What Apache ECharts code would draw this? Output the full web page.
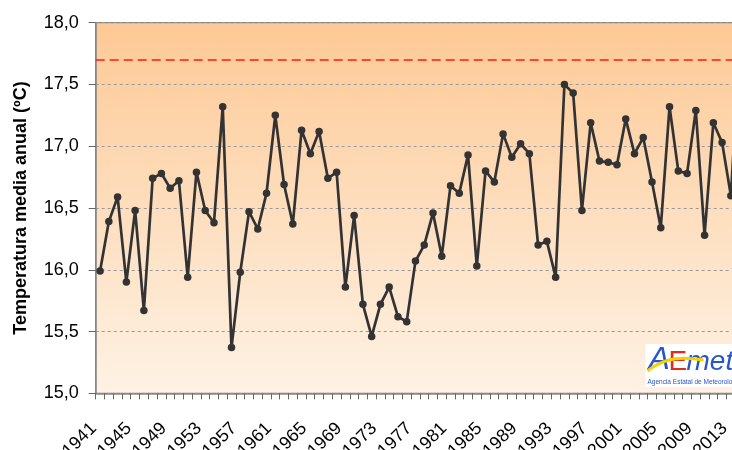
<!DOCTYPE html>
<html>
<head>
<meta charset="utf-8">
<script src="https://cdn.jsdelivr.net/npm/echarts@6/dist/echarts.min.js"></script>
<style>
html,body{margin:0;padding:0;background:#fff;overflow:hidden;width:732px;height:450px;}
#c{width:744px;height:450px;}
</style>
</head>
<body>
<div id="c"></div>
<script>
var years = ['1941','1942','1943','1944','1945','1946','1947','1948','1949','1950',
  '1951','1952','1953','1954','1955','1956','1957','1958','1959','1960',
  '1961','1962','1963','1964','1965','1966','1967','1968','1969','1970',
  '1971','1972','1973','1974','1975','1976','1977','1978','1979','1980',
  '1981','1982','1983','1984','1985','1986','1987','1988','1989','1990',
  '1991','1992','1993','1994','1995','1996','1997','1998','1999','2000',
  '2001','2002','2003','2004','2005','2006','2007','2008','2009','2010',
  '2011','2012','2013','2014'];
var temperatures = [15.99,16.39,16.59,15.90,16.48,15.67,16.74,16.78,16.66,16.72,
  15.94,16.79,16.48,16.38,17.32,15.37,15.98,16.47,16.33,16.62,
  17.25,16.69,16.37,17.13,16.94,17.12,16.74,16.79,15.86,16.44,
  15.72,15.46,15.72,15.86,15.62,15.58,16.07,16.20,16.46,16.11,
  16.68,16.62,16.93,16.03,16.80,16.71,17.10,16.91,17.02,16.94,
  16.20,16.23,15.94,17.50,17.43,16.48,17.19,16.88,16.87,16.85,
  17.22,16.94,17.07,16.71,16.34,17.32,16.80,16.78,17.29,16.28,
  17.19,17.03,16.60,17.80];
var referenceValue = 17.7;

var font = 'Liberation Sans, Arial, sans-serif';
var chart = echarts.init(document.getElementById('c'), null, {renderer:'canvas'});
chart.setOption({
  animation:false,
  backgroundColor:'#ffffff',
  grid:{
    left:95.7, top:22.7, bottom:56.7, right:0,
    outerBoundsMode:'none',
    show:true,
    borderWidth:1, borderColor:'#666',
    backgroundColor:{type:'linear',x:0,y:0,x2:0,y2:1,
      colorStops:[{offset:0,color:'#FDC995'},{offset:1,color:'#FEF2E5'}]}
  },
  xAxis:{
    type:'category',
    data:years,
    boundaryGap:true,
    axisLine:{lineStyle:{color:'#888',width:1.5}},
    axisTick:{show:true,interval:0,length:6,lineStyle:{color:'#666'}},
    axisLabel:{interval:3,rotate:45,margin:26,padding:[0,9,0,0],fontSize:18,color:'#000',fontFamily:font},
    splitLine:{show:false}
  },
  yAxis:{
    type:'value',
    min:15, max:18, interval:0.5,
    name:'Temperatura media anual (ºC)',
    nameLocation:'middle',
    nameGap:66,
    nameTextStyle:{fontSize:18,fontWeight:'bold',color:'#000',fontFamily:font},
    axisLine:{show:true,lineStyle:{color:'#888',width:1.5}},
    axisTick:{show:true,length:7,lineStyle:{color:'#666'}},
    axisLabel:{margin:17,fontSize:18,color:'#000',fontFamily:font,
      formatter:function(v){return v.toFixed(1).replace('.',',');}},
    splitLine:{show:true,lineStyle:{color:'#999',type:[3,3],width:1}}
  },
  series:[{
    type:'line',
    data:temperatures,
    symbol:'circle',
    symbolSize:7.5,
    showAllSymbol:true,
    lineStyle:{color:'#333',width:2.7},
    itemStyle:{color:'#333'},
    markLine:{
      silent:true,
      symbol:['none','none'],
      label:{show:false},
      lineStyle:{color:'#FF1A0A',type:[9,5],width:1.5},
      data:[{yAxis:referenceValue}]
    }
  }],
  graphic:[{
    type:'group', left:645, top:344,
    children:[
      {type:'rect',shape:{x:0,y:0,width:100,height:43},style:{fill:'#fff'}},
      {type:'text',style:{x:3,y:0,text:'A',fontSize:32,fontStyle:'italic',fill:'#2855C8',fontFamily:font}},
      {type:'text',style:{x:23,y:4,text:'E',fontSize:28,fill:'#E42A1F',fontFamily:font}},
      {type:'text',style:{x:41,y:4,text:'met',fontSize:28,fontStyle:'italic',fill:'#2855C8',fontFamily:font}},
      {type:'bezierCurve',shape:{x1:2,y1:27,x2:58,y2:16,cpx1:20,cpy1:12,cpx2:40,cpy2:13},style:{stroke:'#F5D100',lineWidth:3,fill:'none'}},
      {type:'text',style:{x:2,y:35,text:'Agencia Estatal de Meteorología',fontSize:6.5,fill:'#2855C8',fontFamily:font}}
    ]
  }]
});
</script>
</body>
</html>
